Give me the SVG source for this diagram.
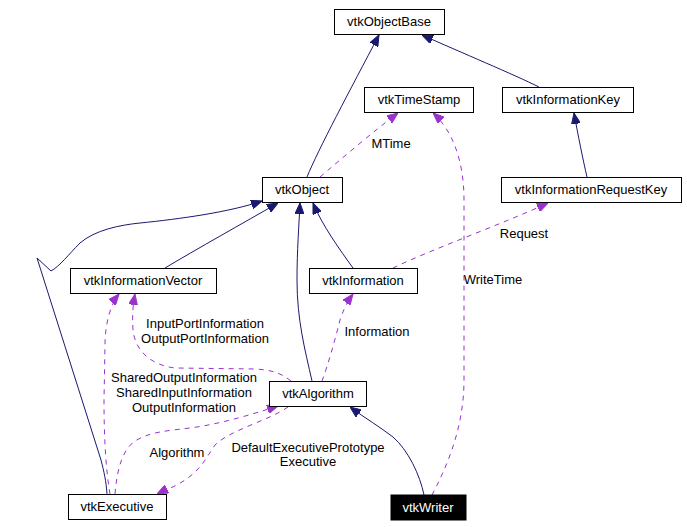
<svg xmlns="http://www.w3.org/2000/svg" width="687" height="527" viewBox="0 0 687 527">
<style>
  .box{fill:#ffffff;stroke:#000000;stroke-width:1}
  .lbl{font-family:"Liberation Sans",Arial,Helvetica,sans-serif;font-size:13px;fill:#000000;text-anchor:middle}
  .inh{fill:none;stroke:#191970;stroke-width:1}
  .use{fill:none;stroke:#9a32cd;stroke-width:1;stroke-dasharray:5,5}
</style>
<defs>
  <marker id="ah" viewBox="0 0 11 9" refX="11" refY="4.5" markerWidth="11" markerHeight="9" markerUnits="userSpaceOnUse" orient="auto">
    <path d="M0,0 L11,4.5 L0,9 z" fill="#191970" stroke="#191970"/>
  </marker>
  <marker id="ap" viewBox="0 0 11 9" refX="11" refY="4.5" markerWidth="11" markerHeight="9" markerUnits="userSpaceOnUse" orient="auto">
    <path d="M0,0 L11,4.5 L0,9 z" fill="#9a32cd" stroke="#9a32cd"/>
  </marker>
</defs>
<rect width="687" height="527" fill="#ffffff"/>
<g id="edges">
  <path class="inh" marker-end="url(#ah)" d="M307,177 C318,150 350,90 379,35"/>
  <path class="inh" marker-end="url(#ah)" d="M539,87 C515,75 460,52 422,35"/>
  <path class="inh" marker-end="url(#ah)" d="M587,177 C583,160 578,135 574,113"/>
  <path class="use" marker-end="url(#ap)" d="M320,177 C340,160 375,130 398,113"/>
  <text class="lbl" x="391" y="148">MTime</text>
  <path class="use" marker-end="url(#ap)" d="M432,495 C445,470 464,430 464,380 L464,200 C464,160 452,130 433,113"/>
  <text class="lbl" x="493" y="284">WriteTime</text>
  <path class="use" marker-end="url(#ap)" d="M393,268 C430,250 500,225 548,203"/>
  <text class="lbl" x="524" y="238">Request</text>
  <path class="inh" marker-end="url(#ah)" d="M353,268 C340,250 322,225 313,203"/>
  <path class="inh" marker-end="url(#ah)" d="M312,381 C305,350 297,320 297,280 C297,250 299,225 300,203"/>
  <path class="inh" marker-end="url(#ah)" d="M165,268 C195,250 245,222 278,203"/>
  <path class="inh" marker-end="url(#ah)" d="M107,494 C106,480 104,472 101,460 L37,258 L51,271 C60,266 68,255 80,243 C95,230 120,225 140,223 C180,219 230,212 262,201"/>
  <path class="use" marker-end="url(#ap)" d="M110,494 C106,470 104,440 104,400 L105,345 C105,325 110,305 119,294"/>
  <text class="lbl" x="184" y="382">SharedOutputInformation</text>
  <text class="lbl" x="184" y="397">SharedInputInformation</text>
  <text class="lbl" x="184" y="412">OutputInformation</text>
  <path class="use" marker-end="url(#ap)" d="M291,381 C280,372 270,370 255,369 L175,368 C150,365 135,350 133,330 C132,315 133,305 135,294"/>
  <text class="lbl" x="205" y="328">InputPortInformation</text>
  <text class="lbl" x="205" y="343">OutputPortInformation</text>
  <path class="use" marker-end="url(#ap)" d="M322,381 C328,365 335,340 340,320 C345,305 350,298 353,294"/>
  <text class="lbl" x="377" y="336">Information</text>
  <path class="use" marker-end="url(#ap)" d="M115,494 C117,470 122,450 135,441 C150,432 165,431 190,428 C220,424 250,415 278,406"/>
  <text class="lbl" x="177" y="457">Algorithm</text>
  <path class="use" marker-end="url(#ap)" d="M288,407 C270,420 230,430 215,445 C205,460 200,470 185,480 C175,487 165,490 157,494"/>
  <text class="lbl" x="308" y="452">DefaultExecutivePrototype</text>
  <text class="lbl" x="308" y="466">Executive</text>
  <path class="inh" marker-end="url(#ah)" d="M424,495 C420,475 408,450 393,437 C380,427 365,418 350,407"/>
</g>
<g id="vtkObjectBase"><rect class="box" x="334.5" y="9.5" width="110" height="25"/><text class="lbl" x="389" y="26">vtkObjectBase</text></g>
<g id="vtkTimeStamp"><rect class="box" x="364.5" y="87.5" width="109" height="25"/><text class="lbl" x="419" y="104">vtkTimeStamp</text></g>
<g id="vtkInformationKey"><rect class="box" x="502.5" y="87.5" width="131" height="25"/><text class="lbl" x="568" y="104">vtkInformationKey</text></g>
<g id="vtkObject"><rect class="box" x="262.5" y="177.5" width="80" height="25"/><text class="lbl" x="302" y="194">vtkObject</text></g>
<g id="vtkInformationRequestKey"><rect class="box" x="501.5" y="177.5" width="180" height="25"/><text class="lbl" x="591" y="194">vtkInformationRequestKey</text></g>
<g id="vtkInformationVector"><rect class="box" x="70.5" y="268.5" width="146" height="25"/><text class="lbl" x="143" y="285">vtkInformationVector</text></g>
<g id="vtkInformation"><rect class="box" x="309.5" y="268.5" width="108" height="25"/><text class="lbl" x="363" y="285">vtkInformation</text></g>
<g id="vtkAlgorithm"><rect class="box" x="269.5" y="381.5" width="97" height="25"/><text class="lbl" x="318" y="398">vtkAlgorithm</text></g>
<g id="vtkExecutive"><rect class="box" x="68.5" y="494.5" width="98" height="25"/><text class="lbl" x="117" y="511">vtkExecutive</text></g>
<g id="vtkWriter"><rect x="391" y="495" width="75" height="25" fill="#000000" stroke="#000000"/><text class="lbl" x="428" y="512" style="fill:#ffffff">vtkWriter</text></g>
</svg>
